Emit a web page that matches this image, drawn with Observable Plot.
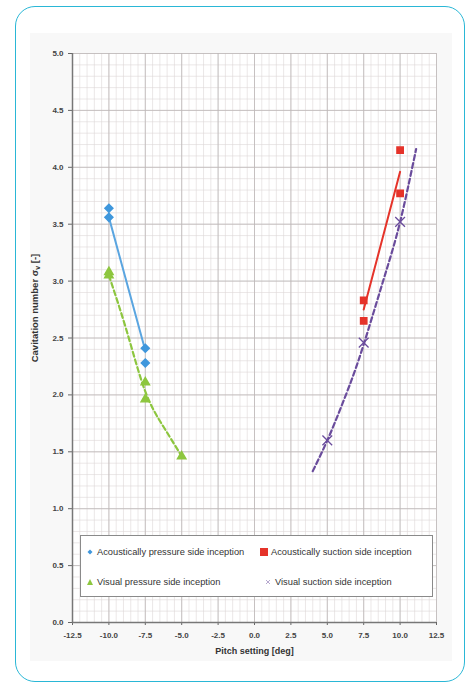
<!DOCTYPE html>
<html><head><meta charset="utf-8">
<script src="https://cdn.jsdelivr.net/npm/d3@7"></script>
<script src="https://cdn.jsdelivr.net/npm/@observablehq/plot@0.6"></script>
<style>
body{margin:0;background:#fff;width:473px;height:682px;overflow:hidden;position:relative;font-family:"Liberation Sans",Arial,sans-serif}
#frame{position:absolute;left:15px;top:6px;width:448px;height:674px;border:1.5px solid #2ab7d6;border-radius:20px;}
#bg{position:absolute;left:30px;top:33px;width:422px;height:628px;background:#f8f8f8}
#chart{position:absolute;left:0;top:0}
#ytitle{position:absolute;left:35px;top:308px;transform:translate(-50%,-50%) rotate(-90deg);white-space:nowrap;font-weight:bold;font-size:9.5px;color:#333}
#legend{position:absolute;left:80px;top:535px;width:351px;height:60px;border:1px solid #8a8a8a;background:#fff;font-size:9.3px;color:#333}
.item{position:absolute;display:flex;align-items:center;white-space:nowrap}
.item svg{margin-right:3px}
</style></head><body>
<div id="frame"></div>
<div id="bg"></div>
<div id="chart"></div>
<div id="ytitle">Cavitation number σ<sub style="font-size:7px">v</sub> [-]</div>
<div id="legend"></div>
<script>
// Acoustically pressure side inception
const apX = [-10, -10, -7.5, -7.5];
const apY = [3.64, 3.56, 2.41, 2.28];
const apFitX = [-10, -7.5];
const apFitY = [3.56, 2.39];
// Visual pressure side inception
const vpX = [-10, -10, -7.5, -7.5, -5];
const vpY = [3.08, 3.05, 2.11, 1.96, 1.46];
const vpFitX = [-10, -8.75, -7.5, -6.25, -5];
const vpFitY = [3.05, 2.55, 2.03, 1.72, 1.46];
// Acoustically suction side inception
const asX = [7.5, 7.5, 10, 10];
const asY = [2.83, 2.65, 4.15, 3.77];
const asFitX = [7.5, 10];
const asFitY = [2.75, 3.96];
// Visual suction side inception
const vsX = [5, 7.5, 10];
const vsY = [1.60, 2.46, 3.52];
const vsFitX = [4, 5, 6, 7, 8, 9, 10, 11.1];
const vsFitY = [1.33, 1.60, 1.91, 2.25, 2.65, 3.07, 3.52, 4.16];

const xTicks = [-12.5, -10, -7.5, -5, -2.5, 0, 2.5, 5, 7.5, 10, 12.5];
const yTicks = [0, 0.5, 1, 1.5, 2, 2.5, 3, 3.5, 4, 4.5, 5];

const names = ["Acoustically pressure side inception", "Acoustically suction side inception", "Visual pressure side inception", "Visual suction side inception"];
const colors = {blue: "#3f97dc", green: "#8dc63f", red: "#e5332a", purple: "#6a4c9c"};

const pts = (xs, ys) => xs.map((x, i) => ({x, y: ys[i]}));
const minorX = d3.range(-12.5, 12.51, 0.5);
const minorY = d3.range(0, 5.001, 0.1);

const chart = Plot.plot({
  width: 473, height: 682,
  marginLeft: 72, marginRight: 37, marginTop: 53, marginBottom: 60,
  x: {domain: [-12.5, 12.5]},
  y: {domain: [0, 5]},
  style: {fontFamily: "Liberation Sans, Arial, sans-serif", fontSize: "8px", fontWeight: "bold", color: "#444", background: "transparent"},
  marks: [
    Plot.frame({fill: "#fff", stroke: null}),
    Plot.gridX(minorX, {stroke: "#ddd7d7", strokeOpacity: 1, strokeWidth: 0.6}),
    Plot.gridY(minorY, {stroke: "#ddd7d7", strokeOpacity: 1, strokeWidth: 0.6}),
    Plot.gridX(xTicks, {stroke: "#bdb7b7", strokeOpacity: 1, strokeWidth: 0.8}),
    Plot.gridY(yTicks, {stroke: "#bdb7b7", strokeOpacity: 1, strokeWidth: 0.8}),
    Plot.axisX({ticks: xTicks, tickFormat: d => d.toFixed(1), tickSize: 3, tickPadding: 7, label: null, stroke: "#666"}),
    Plot.axisY({ticks: yTicks, tickFormat: d => d.toFixed(1), tickSize: 4, tickPadding: 5, label: null, stroke: "#666"}),
    Plot.ruleX([-12.5], {stroke: "#777", strokeWidth: 1.5}),
    Plot.ruleY([0], {stroke: "#777", strokeWidth: 1.5}),
    Plot.text(["Pitch setting [deg]"], {frameAnchor: "bottom", dy: 31, fontSize: 9, fontWeight: "bold", fill: "#333"}),
    // fit lines
    Plot.line(pts(apFitX, apFitY), {x: "x", y: "y", stroke: "#5aa5e0", strokeWidth: 2}),
    Plot.line(pts(vpFitX, vpFitY), {x: "x", y: "y", stroke: colors.green, strokeWidth: 2.2, strokeDasharray: "5,3", curve: "natural"}),
    Plot.line(pts(asFitX, asFitY), {x: "x", y: "y", stroke: colors.red, strokeWidth: 2}),
    Plot.line(pts(vsFitX, vsFitY), {x: "x", y: "y", stroke: colors.purple, strokeWidth: 2.2, strokeDasharray: "5,3", curve: "natural"}),
    // markers
    Plot.dot(pts(apX, apY), {x: "x", y: "y", symbol: "diamond2", r: 3.6, fill: colors.blue, stroke: colors.blue}),
    Plot.dot(pts(vpX, vpY), {x: "x", y: "y", symbol: "triangle2", r: 4, fill: colors.green, stroke: colors.green}),
    Plot.dot(pts(asX, asY), {x: "x", y: "y", symbol: "square2", r: 4, fill: colors.red, stroke: colors.red}),
    Plot.dot(pts(vsX, vsY), {x: "x", y: "y", symbol: "times", r: 4.5, stroke: colors.purple, strokeWidth: 1.3})
  ]
});
document.getElementById("chart").append(chart);

// legend
const leg = document.getElementById("legend");
const legendItems = [
  {name: names[0], color: colors.blue, sym: "diamond", left: 5, top: 17},
  {name: names[1], color: colors.red, sym: "square", left: 179, top: 17},
  {name: names[2], color: colors.green, sym: "triangle", left: 5, top: 47},
  {name: names[3], color: colors.purple, sym: "times", left: 183, top: 47}
];
for (const it of legendItems) {
  const d = document.createElement("div");
  d.className = "item";
  d.style.left = it.left + "px";
  d.style.top = (it.top - 6) + "px";
  let shape;
  if (it.sym === "diamond") shape = `<path d="M4 1.5L6.5 4L4 6.5L1.5 4Z" fill="${it.color}"/>`;
  else if (it.sym === "square") shape = `<rect x="0" y="0" width="8" height="8" fill="${it.color}"/>`;
  else if (it.sym === "triangle") shape = `<path d="M4 1L7 7H1Z" fill="${it.color}"/>`;
  else shape = `<path d="M2 2L6 6M6 2L2 6" stroke="${it.color}" stroke-width="0.8" opacity="0.6"/>`;
  d.innerHTML = `<svg width="8" height="8" viewBox="0 0 8 8">${shape}</svg><span>${it.name}</span>`;
  leg.append(d);
}
</script>
</body></html>
